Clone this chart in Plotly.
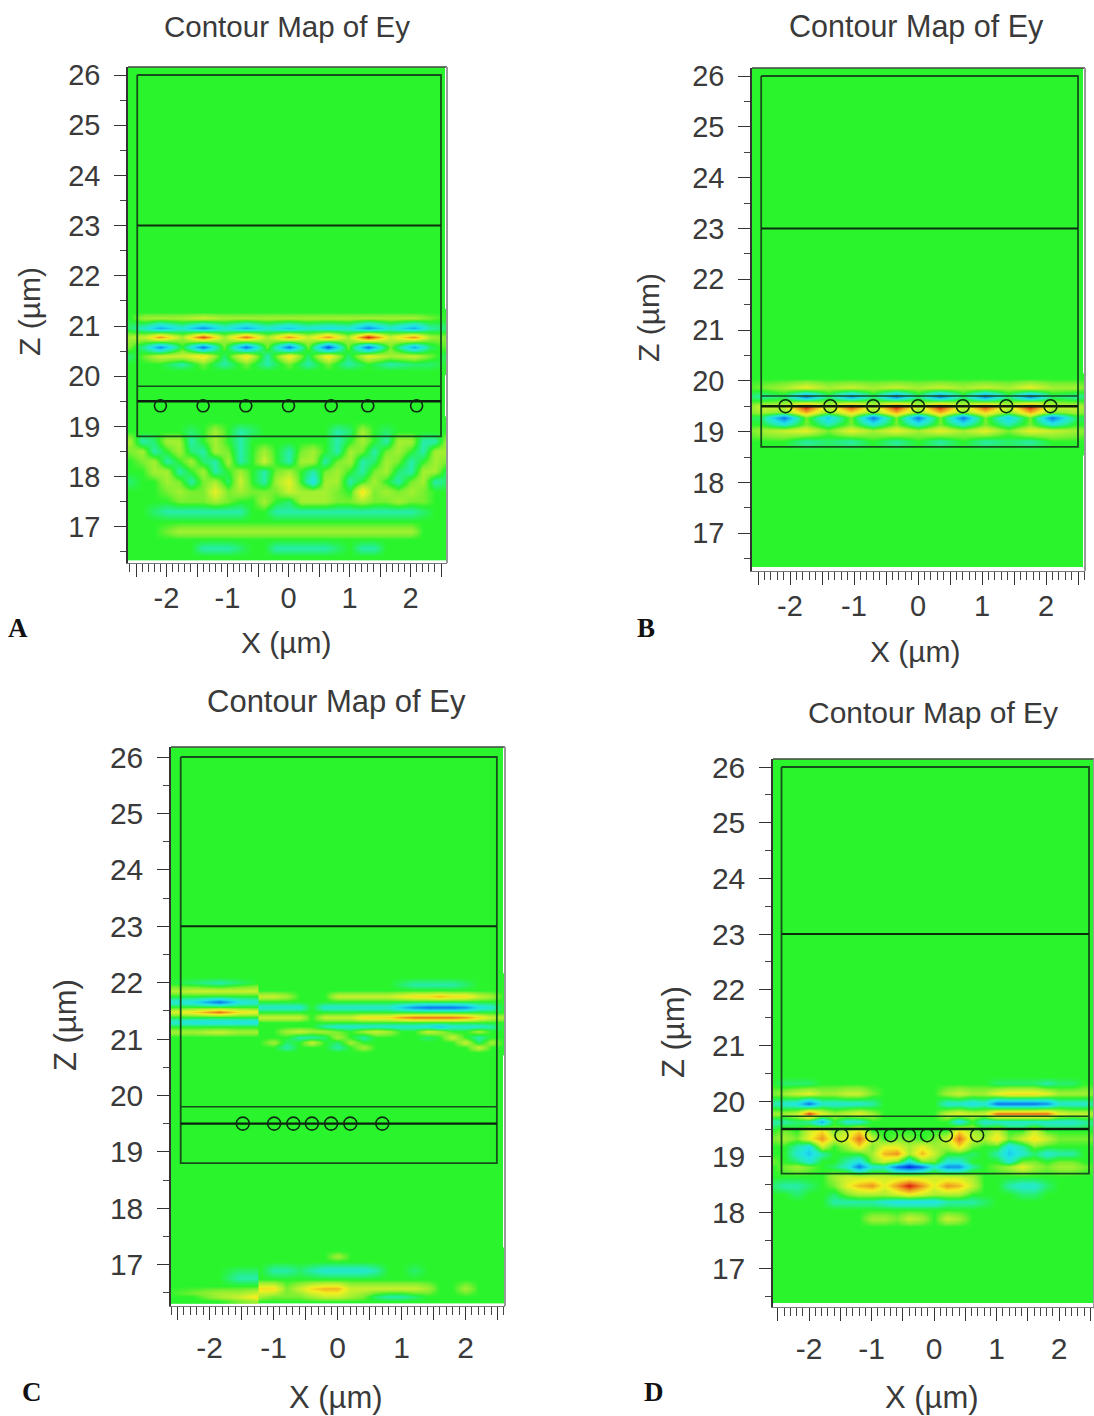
import plotly.graph_objects as go

W, H = 1094, 1416
GREEN_EDGE = "#164f1c"
INK = "#0c2c10"
TXT = "#3a3a3a"
COLORS = [[0, "#0020e8"], [0.12, "#1080f0"], [0.3, "#20e4e8"], [0.39, "#26ecb8"], [0.45, "#28f070"], [0.5, "#2af52c"],
          [0.55, "#78f030"], [0.62, "#b4f030"], [0.72, "#f4f020"], [0.86, "#f08c20"], [1, "#dc1c10"]]

X_TICKS = [-2.5, -2, -1.5, -1, -0.5, 0, 0.5, 1, 1.5, 2, 2.5]
X_TEXT = ["", "-2", "", "-1", "", "0", "", "1", "", "2", ""]
Z_TICKS = [17, 18, 19, 20, 21, 22, 23, 24, 25, 26]
TITLE = "Contour Map of Ey"
XLABEL = "X (µm)"
ZLABEL = "Z (µm)"

# field samples, tenths of full scale; rows run top to bottom
A_X_TOP = [-2.6, -2.35, -2.1, -1.75, -1.4, -1.05, -0.7, -0.35, 0, 0.32, 0.65, 0.97, 1.3, 1.67, 2.05, 2.32, 2.6]
A_Z_TOP = [21.28, 21.16, 20.96, 20.78, 20.58, 20.4, 20.25, 20.1]
A_F_TOP = [
    [0]*17,
    [0, 2, 2, 2, 3, 2, 2, 2, 2, 2, 2, 2, 2, 2, 2, 1, 0],
    [-1, -3, -6, -3, -7, -3, -6, -3, -5, -3, -4, -3, -7, -3, -6, -2, -1],
    [2, 3, 7, 2, 9, 2, 8, 2, 7, 3, 7, 2, 10, 3, 7, 2, 1],
    [1, -2, -7, 0, -8, 1, -8, 1, -8, 1, -9, 1, -8, 1, -6, -1, 1],
    [-1, 1, 3, 3, 5, -1, 5, -2, 5, -1, 5, -1, 4, 2, 3, 1, -1],
    [0, 0, 0, -2, 1, -2, 1, -2, 1, -2, 1, -2, 0, -2, -1, -1, 0],
    [0]*17,
]
A_X_LOW = [-2.6, -2.4, -2.2, -2.0, -1.8, -1.6, -1.4, -1.2, -1.0, -0.8, -0.6, -0.4, -0.2, 0, 0.2, 0.4, 0.6, 0.8, 1.0, 1.2, 1.4, 1.6, 1.8, 2.0, 2.2, 2.4, 2.6]
A_Z_LOW = [19.1, 18.9, 18.7, 18.5, 18.3, 18.1, 17.9, 17.7, 17.5, 17.3, 17.1, 16.9, 16.74, 16.58, 16.42]
A_F_LOW = [
    [0]*27,
    [0, 0, 0, 0, 0, -1, 0, 2, 0, -2, -1, 0, 0, 0, 0, 0, 0, -2, -1, 2, 0, -1, 0, 0, 0, 0, 0],
    [2, -2, -1, 2, 2, -2, 0, 2, 0, -2, 0, 0, 0, 0, 0, 0, 0, -2, 0, 2, 0, -2, 2, 2, -2, -2, 2],
    [1, 2, -2, 0, 2, -1, -2, 2, 1, -2, 0, 2, 0, -2, 1, 2, 0, -2, 2, 1, -2, 1, 2, 0, -2, 2, 2],
    [0, 1, 2, -2, 0, 2, -1, -2, 2, -2, 0, 3, 0, -2, 2, 2, -2, 1, 2, -2, -1, 2, 1, -2, 0, 2, 1],
    [0, 0, 2, 2, -2, 0, 2, -2, 0, 2, 0, -2, 1, 2, 0, -2, 1, 2, 0, -2, 1, 2, -1, -2, 2, 2, -1],
    [-1, 0, 0, 2, 1, -2, 1, 2, -1, 3, 0, -2, 2, 4, 0, -4, 2, 2, -2, 0, 2, 0, -2, 1, 2, -2, -1],
    [0, 0, 0, 1, 2, 1, 1, 4, 1, 2, 1, 1, 1, 3, 2, 2, 2, 1, 0, 5, 1, 2, 1, 2, 1, 0, 0],
    [0, 0, 0, 0, 1, 1, 1, 2, 1, 0, 0, 2, 0, -1, 2, 2, 2, 1, 1, 2, 1, 1, 2, 1, 1, 0, 0],
    [0, 0, -1, -2, -2, -2, -2, -2, -2, -2, 0, 0, -2, -2, -2, -2, -2, -2, -2, -2, -2, -2, -2, -2, -1, 0, 0],
    [0]*27,
    [0, 0, 0, 1, 2, 2, 2, 2, 2, 2, 2, 2, 2, 2, 2, 2, 2, 2, 2, 2, 2, 2, 2, 2, 0, 0, 0],
    [0]*27,
    [0, 0, 0, 0, 0, 0, -2, -2, -2, -1, 0, 0, -2, -2, -2, -2, -2, -1, 0, -2, -2, 0, 0, 0, 0, 0, 0],
    [0]*27,
]

B_X = [-2.8, -2.45, -2.1, -1.75, -1.4, -1.05, -0.7, -0.35, 0, 0.35, 0.7, 1.05, 1.4, 1.75, 2.1, 2.45, 2.8]
B_Z = [20.05, 19.86, 19.69, 19.49, 19.38, 19.27, 19.15, 19.03, 18.8, 18.62]
B_F = [
    [0]*17,
    [0, 1, 2, 4, 2, 3, 2, 3, 2, 3, 2, 3, 2, 4, 2, 2, 0],
    [0, -2, -1, -8, -1, -7, -1, -8, -1, -8, -1, -8, -1, -8, -1, -2, 0],
    [0, 3, 3, 10, 3, 9, 3, 10, 3, 10, 3, 9, 3, 10, 3, 3, 0],
    [0, 2, 1, 6, 1, 5, 1, 6, 1, 6, 1, 5, 1, 6, 1, 2, 0],
    [0, -1, -8, 1, -5, 1, -8, 1, -8, 1, -8, 1, -5, 1, -8, -1, 0],
    [0, 0, -3, 1, -2, 1, -3, 1, -3, 1, -3, 1, -2, 1, -3, 0, 0],
    [0, 2, 3, 4, 1, 4, 2, 4, 2, 4, 2, 4, 1, 4, 3, 2, 0],
    [0, 0, 0, -2, -1, -2, 0, -2, 0, -2, 0, -2, -1, -2, 0, 0, 0],
    [0]*17,
]

C_X_L = [-2.7, -2.25, -1.85, -1.55, -1.24, -1.23]
C_Z_L = [22.1, 21.99, 21.86, 21.76, 21.65, 21.57, 21.48, 21.39, 21.3, 21.22, 21.13, 21.03]
C_F_L = [
    [0]*6,
    [0, -1, -2, -1, 0, 0],
    [2, 3, 3, 3, 3, 3],
    [0]*6,
    [-3, -4, -8, -4, -3, -3],
    [0]*6,
    [3, 5, 8, 5, 4, 4],
    [0]*6,
    [-3, -4, -4, -4, -4, -4],
    [0]*6,
    [2, 2, 3, 2, 2, 2],
    [0]*6,
]
C_X_R = [-1.23, -1.22, -1, -0.8, -0.6, -0.4, -0.2, 0, 0.2, 0.4, 0.6, 0.8, 1, 1.2, 1.4, 1.6, 1.8, 2, 2.2, 2.4, 2.6]
C_Z_R = [22.1, 21.97, 21.87, 21.76, 21.66, 21.56, 21.47, 21.38, 21.30, 21.22, 21.13, 21.03, 20.94, 20.85, 20.76]
C_F_R = [
    [0]*21,
    [0, 0, 0, 0, 0, 0, 0, 0, 0, 0, 0, 0, -1, -2, -2, -2, -2, -1, 0, 0, 0],
    [0]*21,
    [3, 3, 3, 2, 0, 0, 0, 3, 3, 3, 3, 3, 4, 5, 5, 6, 5, 5, 3, 2, 0],
    [0]*21,
    [-3, -3, -3, -3, -3, 0, -3, -3, -3, -3, -3, -3, -5, -7, -8, -8, -8, -7, -4, -3, 0],
    [0]*21,
    [3, 3, 3, 3, 3, 0, 3, 3, 3, 5, 5, 5, 7, 8, 8, 8, 8, 7, 5, 3, 2],
    [0]*21,
    [0, 0, 0, 0, 0, 0, -2, -3, -3, -3, -3, -3, -3, -3, -4, -5, -3, -3, -3, -2, 0],
    [0, 0, 0, 2, 3, 2, 2, 1, 0, 2, 3, 2, 0, 0, 3, 2, 0, 0, 2, 0, 0],
    [0, 0, 0, 0, -2, -2, -1, 2, 0, -2, 0, 0, 0, 0, -1, 0, 3, 0, -2, 0, 0],
    [0, 0, 2, -1, 0, 3, 0, -1, 2, 0, 0, 0, 0, 0, 0, 0, 0, 3, -1, 2, 0],
    [0, 0, 0, -2, 0, 0, 0, -2, 0, 2, 0, 0, 0, 0, 0, 0, 0, 0, 3, 0, 0],
    [0]*21,
]
C_X_BL = [-2.7, -2.25, -1.85, -1.55, -1.24, -1.23]
C_Z_BL = [17.0, 16.76, 16.62, 16.5, 16.43, 16.35]
C_F_BL = [
    [0]*6,
    [0, 0, 0, -2, -2, -2],
    [0]*6,
    [0, 1, 2, 2, 3, 3],
    [0, 0, 2, 3, 5, 5],
    [0, 0, 0, 1, 2, 2],
]
C_Z_BR = [17.25, 17.14, 17.05, 16.9, 16.74, 16.57, 16.44, 16.35]
C_F_BR = [
    [0]*21,
    [0, 0, 0, 0, 0, 0, 0, 2, 0, 0, 0, 0, 0, 0, 0, 0, 0, 0, 0, 0, 0],
    [0]*21,
    [0, 0, -2, -2, -1, -2, -3, -3, -3, -3, -2, 0, 0, -1, 0, 0, 0, 0, 0, 0, 0],
    [0]*21,
    [5, 5, 5, 1, 3, 5, 6, 6, 3, 3, 3, 3, 3, 3, 2, 0, 0, 2, 0, 0, 0],
    [2, 2, 1, 1, 1, 2, 3, 3, 2, 1, -1, -2, -2, -1, 0, 0, 0, 0, 0, 0, 0],
    [0]*21,
]

D_X = A_X_LOW
D_Z = [20.45, 20.32, 20.14, 19.96, 19.78, 19.63, 19.47, 19.33, 19.18, 19.06, 18.92, 18.82, 18.65, 18.49, 18.33, 18.2, 18.05, 17.9, 17.75]
D_F = [
    [0]*27,
    [0, -1, -1, -1, 0, 0, 0, 0, 0, 0, 0, 0, 0, 0, 0, 0, 0, 0, -1, -1, -1, -1, -2, -1, -1, 0, 0],
    [1, 2, 3, 4, 2, 2, 3, 3, 1, 0, 0, 0, 0, 0, 2, 3, 2, 2, 4, 5, 5, 5, 4, 2, 2, 2, 1],
    [-2, -3, -4, -8, -3, -3, -3, -3, -2, 0, 0, 0, 0, 0, -3, -3, -4, -3, -8, -8, -8, -8, -7, -3, -3, -3, -1],
    [2, 2, 3, 9, 4, 2, 3, 4, 2, 0, 0, 0, 0, 0, 3, 4, 3, 3, 8, 8, 8, 8, 8, 4, 3, 3, 2],
    [-2, -2, -1, -2, -6, 0, -3, -3, 0, 0, 0, 0, 0, 0, 0, -4, 0, -3, -3, -3, -3, -3, -3, -3, -3, -2, -1],
    [0, 1, 0, 3, 5, 1, 3, 5, 0, 0, 0, 0, 0, 0, 0, 5, 2, 1, 3, 0, 0, 3, 0, 0, 0, 0, 0],
    [1, 2, 1, 4, 7, 3, 4, 8, 3, 0, 1, 1, 0, 1, 3, 8, 3, 2, 5, 1, 3, 5, 3, 1, 1, 1, 1],
    [0, 0, -2, -4, 3, 0, 2, 5, 1, 4, 4, 2, 4, 2, 2, 5, 1, 0, 0, -4, -2, 1, 0, 0, 0, 0, 0],
    [0, 0, -3, -5, -2, 0, 0, 0, 2, 6, 7, 2, 6, 3, 0, 0, -1, 0, -2, -5, -3, -1, -3, -2, -2, 0, 0],
    [1, 0, -1, -3, 0, 0, -2, -4, 1, 3, 1, -4, 1, 1, -3, -3, 0, 0, 0, -3, 1, 1, 0, 1, 1, 0, 0],
    [0, 1, 2, 1, 0, -1, -3, -8, -3, -3, -8, -10, -8, -3, -7, -7, -2, 0, 1, 2, 4, 2, 1, 2, 2, 1, 0],
    [0, 0, 0, 0, 0, 2, 3, 3, 3, 3, 3, 3, 3, 3, 3, 3, 2, 0, 0, 0, 0, 0, 0, 0, 0, 0, 0],
    [-1, -2, -2, -1, 0, 1, 4, 6, 7, 4, 7, 10, 7, 4, 7, 6, 3, 0, 0, -2, -3, -3, -1, 0, 0, 0, 0],
    [0, 0, -1, 0, 0, -1, 1, 2, 2, 2, 3, 4, 3, 2, 2, 2, 0, 0, 0, 0, -1, -1, 0, 0, 0, 0, 0],
    [0, 0, 0, 0, 0, -2, -2, -2, -2, -3, -4, -4, -4, -4, -2, -2, -2, -1, 0, 0, 0, 0, 0, 0, 0, 0, 0],
    [0]*27,
    [0, 0, 0, 0, 0, 0, 0, 0, 2, 2, 1, 3, 2, 0, 3, 2, 0, 0, 0, 0, 0, 0, 0, 0, 0, 0, 0],
    [0]*27,
]

# structure outlines
A_BOX = [-2.48, 2.5]
B_BOX = [-2.45, 2.5]
C_BOX = [-2.45, 2.49]
D_BOX = [-2.44, 2.48]
A_LINES = [23, 19.8]
A_BOX_LOW = 18.8
B_LINES = [23, 19.7]
B_BOX_LOW = 18.7
C_LINES = [23, 19.8]
C_BOX_LOW = 18.8
D_LINES = [23, 19.73]
D_BOX_LOW = 18.7
A_SPH_X = [-2.1, -1.4, -0.7, 0, 0.7, 1.3, 2.1]
A_SPH_Z = [19.41] * 7
B_SPH_X = [-2.07, -1.37, -0.7, 0, 0.7, 1.38, 2.07]
B_SPH_Z = [19.5] * 7
C_SPH_X = [-1.48, -0.99, -0.69, -0.4, -0.1, 0.2, 0.7]
C_SPH_Z = [19.5] * 7
D_SPH_X = [-1.48, -0.99, -0.69, -0.4, -0.11, 0.19, 0.69]
D_SPH_Z = [19.39] * 7

PANELS = [
    dict(px=(128, 447, 67, 563), org=(288.5, 61, 75, 50.2), green=(445, 559), bands=[(A_X_TOP, A_Z_TOP, A_F_TOP), (A_X_LOW, A_Z_LOW, A_F_LOW)],
         box=A_BOX, lines=A_LINES, low=A_BOX_LOW, sx=A_SPH_X, sz=A_SPH_Z, ms=12, xs=-4,
         title=(287, 26, 29.5), xl=(286, 642), zl=(30, 312), tag=("A", 18, 628), fs=29),
    dict(px=(752, 1085, 68, 571), org=(918, 64, 76, 50.8), green=(1083, 567), bands=[(B_X, B_Z, B_F)],
         box=B_BOX, lines=B_LINES, low=B_BOX_LOW, sx=B_SPH_X, sz=B_SPH_Z, ms=13, xs=-4,
         title=(916, 27, 30.5), xl=(915, 651), zl=(648, 318), tag=("B", 646, 628), fs=29),
    dict(px=(171, 505, 747, 1306), org=(337.5, 64, 757, 56.4), green=(503, 1302),
         bands=[(C_X_L, C_Z_L, C_F_L), (C_X_R, C_Z_R, C_F_R), (C_X_BL, C_Z_BL, C_F_BL), (C_X_R, C_Z_BR, C_F_BR)],
         box=C_BOX, lines=C_LINES, low=C_BOX_LOW, sx=C_SPH_X, sz=C_SPH_Z, ms=13, xs=2,
         title=(336, 701, 31), xl=(336, 1397), zl=(65, 1025), tag=("C", 32, 1392), fs=30),
    dict(px=(773, 1094, 759, 1307), org=(934, 62.5, 767, 55.7), green=(1094, 1303), bands=[(D_X, D_Z, D_F)],
         box=D_BOX, lines=D_LINES, low=D_BOX_LOW, sx=D_SPH_X, sz=D_SPH_Z, ms=13, xs=2,
         title=(933, 713, 30), xl=(932, 1397), zl=(673, 1032), tag=("D", 654, 1392), fs=30),
]

fig = go.Figure()
annots = []
shapes = []


def note(text, x, y, size, angle=0, family="Liberation Sans", bold=False):
    annots.append(dict(text=f"<b>{text}</b>" if bold else text, x=x / W, y=1 - y / H, xref="paper", yref="paper",
                       showarrow=False, textangle=angle, xanchor="center", yanchor="middle",
                       font=dict(size=size, family=family, color="#111" if bold else TXT)))


for n, p in enumerate(PANELS, start=1):
    L, R, T, B = p["px"]
    x0, sx, y26, sy = p["org"]
    xa, ya = ("x", "y") if n == 1 else (f"x{n}", f"y{n}")
    to_x = lambda v: (v - x0) / sx
    to_z = lambda v: 26 - (v - y26) / sy
    fig.add_trace(go.Heatmap(x=[to_x(L), to_x(p["green"][0])], y=[to_z(p["green"][1]), to_z(T)], z=[[0]],
                             zmin=-10, zmax=10, colorscale=COLORS, showscale=False, hoverinfo="skip", xaxis=xa, yaxis=ya))
    for bx, bz, bf in p["bands"]:
        fig.add_trace(go.Heatmap(x=bx, y=bz[::-1], z=bf[::-1], zmin=-10, zmax=10, colorscale=COLORS, zsmooth="best",
                                 showscale=False, hoverinfo="skip", xaxis=xa, yaxis=ya))
    left, right = p["box"]
    low = p["low"]
    fig.add_trace(go.Scatter(x=[left, right, right, left, left], y=[26, 26, low, low, 26], mode="lines",
                             line=dict(color=GREEN_EDGE, width=1.8), hoverinfo="skip", xaxis=xa, yaxis=ya))
    for k, z in enumerate(p["lines"]):
        fig.add_trace(go.Scatter(x=[left, right], y=[z, z], mode="lines",
                                 line=dict(color=INK if k == 0 else GREEN_EDGE, width=2 if k == 0 else 1.6),
                                 hoverinfo="skip", xaxis=xa, yaxis=ya))
    fig.add_trace(go.Scatter(x=[left, right], y=[19.5, 19.5], mode="lines", line=dict(color="#0a200c", width=2.4),
                             hoverinfo="skip", xaxis=xa, yaxis=ya))
    fig.add_trace(go.Scatter(x=p["sx"], y=p["sz"], mode="markers",
                             marker=dict(symbol="circle-open", size=p["ms"], color=INK, line=dict(color=INK, width=1.6)),
                             hoverinfo="skip", xaxis=xa, yaxis=ya))
    tf = dict(size=p["fs"], family="Liberation Sans", color=TXT)
    fig.update_layout({
        f"xaxis{'' if n == 1 else n}": dict(
            domain=[L / W, R / W], range=[to_x(L), to_x(R)], anchor=ya, tickmode="array", tickvals=X_TICKS, ticktext=X_TEXT,
            ticks="outside", ticklen=13, tickwidth=1.4, tickcolor="#333", tickfont=tf, showgrid=False, zeroline=False,
            showline=True, linecolor="#777", linewidth=1, ticklabelstandoff=p["xs"],
            minor=dict(dtick=0.1, tick0=0, ticks="outside", ticklen=8, tickwidth=1.2, tickcolor="#444", showgrid=False)),
        f"yaxis{'' if n == 1 else n}": dict(
            domain=[1 - B / H, 1 - T / H], range=[to_z(B), to_z(T)], anchor=xa, tickmode="array", tickvals=Z_TICKS,
            ticks="outside", ticklen=12, tickwidth=1.4, tickcolor="#333", tickfont=tf, showgrid=False, zeroline=False,
            showline=True, linecolor="#333", linewidth=1.5, ticklabelstandoff=8,
            minor=dict(dtick=0.5, tick0=0, ticks="outside", ticklen=6, tickwidth=1.2, tickcolor="#444", showgrid=False)),
    })
    shapes.append(dict(type="line", xref="paper", yref="paper", x0=L / W, x1=R / W, y0=1 - T / H, y1=1 - T / H,
                       line=dict(color="#444", width=1.5)))
    shapes.append(dict(type="line", xref="paper", yref="paper", x0=R / W, x1=R / W, y0=1 - T / H, y1=1 - B / H,
                       line=dict(color="#999", width=2)))
    tx, ty, ts = p["title"]
    note(TITLE, tx, ty, ts)
    note(XLABEL, p["xl"][0], p["xl"][1], p["fs"] + 1)
    note(ZLABEL, p["zl"][0], p["zl"][1], p["fs"] + 1, angle=-90)
    note(p["tag"][0], p["tag"][1], p["tag"][2], 27, family="Liberation Serif", bold=True)

fig.update_layout(width=W, height=H, margin=dict(l=0, r=0, t=0, b=0, autoexpand=False), paper_bgcolor="white", plot_bgcolor="white",
                  showlegend=False, annotations=annots, shapes=shapes)
fig.write_html("out.html", config={"displayModeBar": False},
               post_script="document.body.style.margin='0';document.body.style.overflow='hidden';"
                           "var d=document.querySelector('.plotly-graph-div');d.style.position='fixed';d.style.left='0';d.style.top='0';")
